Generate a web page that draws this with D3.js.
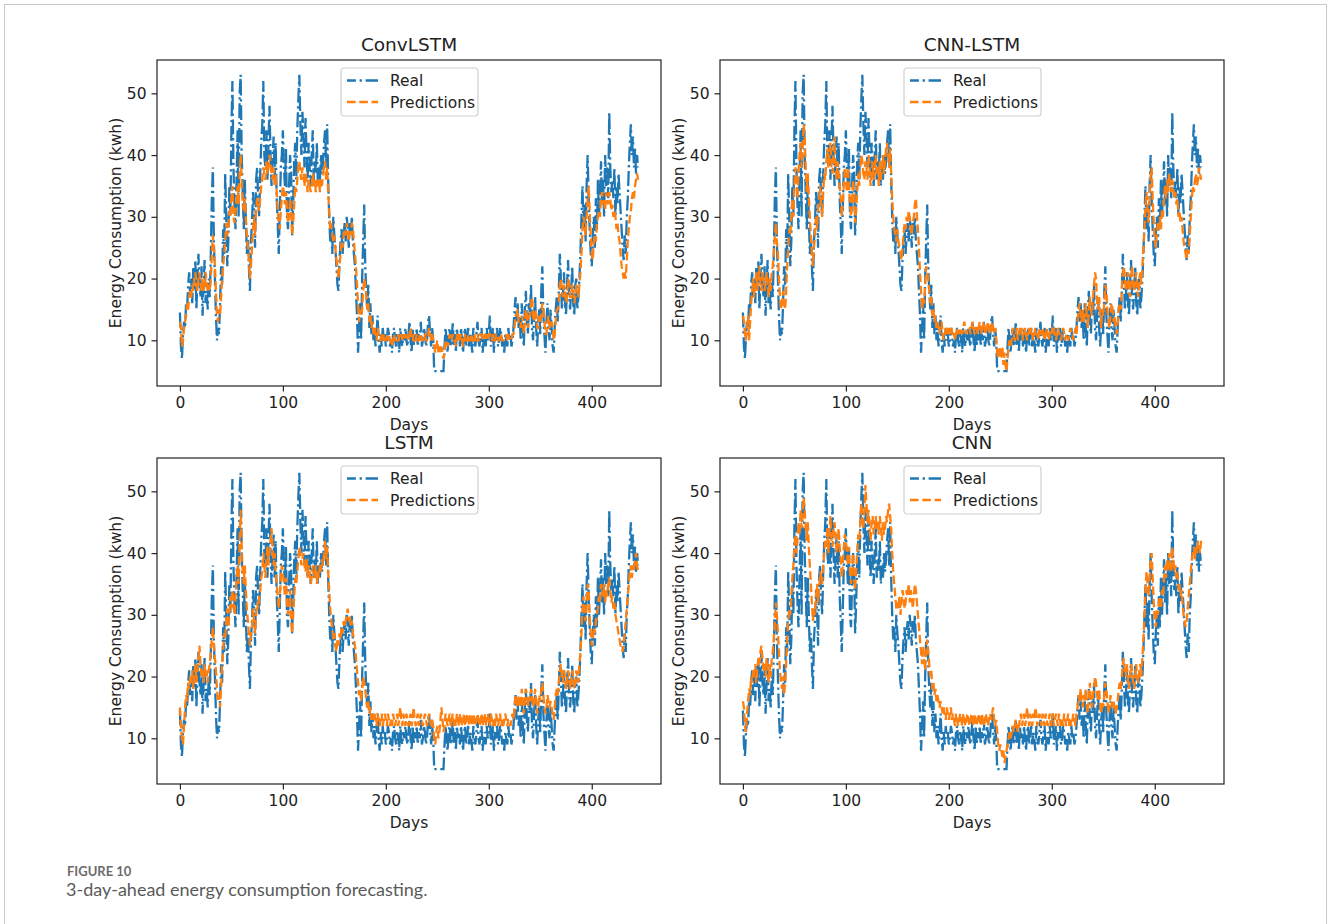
<!DOCTYPE html>
<html lang="en">
<head>
<meta charset="UTF-8">
<title>3-day-ahead forecasting</title>
<style>
  body { margin: 0; background: #fff; }
  svg text { font-family: "DejaVu Sans", sans-serif; fill: #222; }
  .cap text { font-family: Lato, "Open Sans", sans-serif; }
</style>
</head>
<body>
<svg width="1328" height="924"></svg>

<script src="https://cdn.jsdelivr.net/npm/d3@7"></script>
<script>
// panel titles
var models = ["ConvLSTM", "CNN-LSTM", "LSTM", "CNN"];
var xTicks = [0, 100, 200, 300, 400];
var yTicks = [10, 20, 30, 40, 50];

// measured daily consumption (same in every panel)
var real = [
  14.5, 9, 7, 11, 13, 12, 16, 15, 19, 21,
  17, 20, 16, 22, 18, 23, 15, 20, 24, 19,
  17, 22, 14, 19, 23, 16, 18, 15, 20, 17,
  24, 33, 38, 26, 20, 14, 10, 12, 11, 16,
  22, 19, 28, 24, 37, 30, 22, 26, 35, 30,
  44, 52, 38, 32, 28, 36, 44, 30, 50, 53,
  40, 34, 28, 36, 30, 24, 27, 22, 18, 26,
  29, 34, 31, 25, 36, 38, 33, 30, 37, 42,
  45, 52, 40, 38, 44, 36, 42, 48, 40, 35,
  39, 43, 36, 42, 33, 29, 24, 31, 38, 40,
  44, 38, 35, 41, 30, 28, 35, 40, 37, 27,
  32, 39, 42, 36, 44, 49, 53, 45, 40, 47,
  43, 38, 46, 40, 36, 42, 38, 35, 40, 44,
  36, 39, 37, 42, 35, 38, 36, 40, 37, 39,
  42, 44, 38, 45, 36, 30, 26, 28, 24, 30,
  27, 25, 22, 19, 18, 23, 26, 28, 24, 27,
  29, 26, 30, 28, 25, 29, 27, 30, 26, 24,
  22, 18, 14, 8, 12, 16, 10, 20, 26, 32,
  22, 18, 15, 19, 12, 16, 11, 14, 10, 12,
  9, 11, 14, 10, 8, 11, 9, 12, 10, 11,
  9, 10, 12, 11, 9, 10, 8, 11, 12, 10,
  9, 11, 10, 8, 12, 10, 9, 11, 10, 12,
  10, 9, 11, 13, 10, 8, 12, 9, 11, 10,
  12, 9, 11, 10, 13, 9, 10, 12, 11, 9,
  10, 13, 14, 11, 9, 12, 10, 5, 5, 5,
  5, 5, 5, 5, 5, 5, 5, 9, 12, 10,
  8, 11, 12, 9, 10, 13, 9, 11, 8, 12,
  10, 11, 9, 12, 10, 8, 11, 12, 9, 10,
  12, 9, 11, 10, 8, 12, 10, 9, 11, 13,
  10, 9, 11, 12, 8, 10, 11, 9, 12, 10,
  11, 14, 9, 10, 12, 8, 11, 10, 12, 9,
  10, 12, 11, 9, 10, 8, 11, 10, 9, 12,
  10, 11, 9, 10, 12, 15, 17, 13, 16, 12,
  14, 10, 16, 12, 9, 15, 18, 13, 11, 16,
  14, 19, 12, 10, 14, 17, 12, 9, 13, 15,
  11, 18, 22, 14, 11, 8, 13, 16, 12, 10,
  15, 12, 9, 8, 12, 15, 17, 13, 18, 24,
  20, 15, 17, 21, 16, 14, 19, 23, 17, 15,
  18, 22, 16, 14, 19, 20, 15, 17, 20, 24,
  30, 35, 28, 32, 26, 35, 40, 33, 28, 24,
  22, 27, 30, 25, 33, 28, 36, 30, 34, 39,
  32, 36, 30, 40, 35, 38, 33, 47, 38, 34,
  36, 33, 38, 30, 35, 32, 37, 34, 31, 28,
  25, 23, 27, 24, 30, 33, 38, 42, 45, 40,
  43, 38, 41, 37, 40, 38
];

var predConvLSTM = [
  13, 12, 9, 10, 12, 13, 14, 16, 15, 17,
  18, 17, 19, 18, 20, 21, 19, 18, 20, 21,
  19, 18, 20, 18, 19, 21, 19, 18, 19, 18,
  20, 24, 27, 25, 22, 18, 14, 13, 15, 14,
  17, 20, 22, 24, 26, 29, 27, 28, 31, 30,
  33, 35, 30, 29, 31, 33, 35, 32, 37, 40,
  36, 32, 31, 33, 30, 27, 25, 23, 20, 22,
  25, 28, 30, 27, 31, 33, 32, 31, 33, 35,
  36, 38, 37, 36, 39, 37, 38, 40, 39, 37,
  36, 38, 35, 37, 34, 31, 29, 28, 31, 33,
  35, 34, 32, 34, 31, 29, 30, 33, 31, 27,
  29, 32, 35, 34, 36, 38, 39, 37, 36, 38,
  37, 35, 37, 36, 34, 36, 35, 34, 35, 37,
  35, 36, 34, 36, 35, 36, 34, 36, 35, 37,
  38, 39, 36, 38, 34, 31, 28, 29, 27, 26,
  27, 25, 23, 22, 20, 22, 24, 26, 25, 27,
  28, 27, 29, 28, 26, 28, 27, 29, 28, 26,
  24, 22, 19, 16, 13, 15, 14, 15, 18, 20,
  19, 17, 15, 16, 13, 14, 12, 13, 11, 12,
  11, 10, 12, 11, 10, 10, 11, 10, 11, 10,
  10, 11, 10, 11, 10, 10, 9, 10, 11, 10,
  10, 10, 11, 10, 10, 11, 10, 10, 11, 10,
  11, 10, 10, 11, 12, 10, 10, 11, 10, 10,
  11, 10, 10, 11, 11, 10, 10, 11, 11, 10,
  10, 11, 12, 11, 10, 11, 10, 9, 8, 9,
  10, 8, 9, 8, 9, 8, 7, 8, 10, 10,
  9, 10, 11, 10, 10, 11, 10, 10, 9, 11,
  10, 11, 10, 11, 10, 9, 10, 11, 10, 10,
  11, 10, 10, 11, 10, 10, 11, 10, 10, 11,
  10, 10, 11, 11, 10, 10, 11, 10, 11, 10,
  11, 11, 10, 10, 11, 10, 10, 11, 11, 10,
  10, 11, 11, 10, 10, 10, 10, 11, 10, 11,
  10, 10, 10, 11, 11, 12, 14, 14, 15, 13,
  13, 12, 14, 13, 11, 13, 15, 14, 12, 14,
  14, 16, 17, 14, 13, 15, 14, 12, 12, 14,
  13, 14, 16, 15, 13, 11, 11, 13, 14, 12,
  12, 13, 12, 10, 11, 13, 15, 15, 16, 19,
  20, 18, 17, 19, 18, 16, 17, 20, 19, 17,
  17, 19, 18, 16, 17, 19, 18, 17, 19, 21,
  24, 28, 30, 29, 27, 30, 33, 35, 31, 27,
  24, 23, 26, 27, 26, 29, 30, 31, 30, 33,
  34, 32, 33, 31, 34, 33, 32, 34, 33, 31,
  32, 30, 31, 30, 28, 29, 27, 26, 24, 22,
  21, 20, 21, 20, 23, 26, 28, 30, 31, 33,
  34, 33, 35, 36, 37, 36
];

var predCnnLstm = [
  14, 13, 11, 10, 12, 14, 10, 13, 16, 18,
  20, 17, 19, 21, 18, 20, 22, 19, 18, 21,
  20, 18, 19, 21, 19, 17, 20, 18, 21, 22,
  24, 27, 29, 26, 24, 20, 17, 15, 16, 18,
  16, 15, 18, 22, 25, 28, 27, 30, 33, 30,
  35, 38, 36, 33, 37, 40, 42, 38, 41, 45,
  43, 38, 34, 37, 33, 30, 27, 24, 22, 25,
  27, 30, 28, 31, 33, 35, 32, 30, 34, 37,
  36, 39, 41, 38, 40, 42, 38, 37, 40, 43,
  38, 36, 39, 37, 35, 33, 30, 32, 35, 38,
  36, 34, 38, 35, 32, 30, 33, 36, 34, 29,
  31, 34, 37, 35, 38, 40, 39, 37, 36, 39,
  38, 36, 40, 38, 35, 37, 39, 36, 38, 40,
  37, 38, 35, 39, 36, 38, 40, 37, 39, 41,
  42, 40, 38, 41, 37, 33, 30, 28, 27, 26,
  28, 26, 25, 24, 23, 25, 27, 29, 28, 30,
  29, 31, 30, 28, 27, 29, 30, 32, 33, 30,
  28, 25, 21, 18, 15, 17, 16, 19, 22, 21,
  20, 18, 16, 17, 14, 15, 13, 14, 12, 13,
  12, 11, 12, 13, 11, 10, 11, 12, 11, 12,
  11, 12, 11, 12, 11, 11, 10, 11, 12, 11,
  12, 11, 12, 11, 12, 13, 12, 11, 12, 12,
  12, 11, 12, 13, 12, 11, 12, 12, 11, 12,
  13, 12, 11, 12, 13, 12, 11, 12, 13, 12,
  11, 12, 13, 12, 11, 12, 10, 8, 7, 9,
  8, 7, 9, 6, 8, 6, 5, 7, 9, 10,
  9, 10, 12, 11, 10, 11, 12, 10, 11, 12,
  11, 12, 10, 11, 12, 11, 10, 11, 12, 11,
  12, 11, 10, 11, 12, 11, 11, 10, 12, 11,
  11, 12, 11, 10, 11, 12, 11, 10, 11, 12,
  12, 11, 12, 11, 10, 11, 12, 11, 11, 10,
  11, 12, 11, 10, 11, 11, 10, 11, 12, 11,
  11, 10, 11, 12, 11, 13, 15, 16, 14, 13,
  15, 13, 14, 16, 14, 12, 15, 17, 15, 14,
  17, 19, 21, 20, 16, 15, 17, 14, 12, 15,
  14, 16, 19, 18, 15, 13, 12, 14, 16, 15,
  13, 14, 12, 11, 13, 15, 16, 15, 18, 21,
  22, 20, 18, 19, 21, 18, 17, 20, 22, 19,
  18, 20, 21, 18, 17, 20, 21, 19, 22, 25,
  28, 32, 34, 31, 29, 33, 37, 38, 33, 29,
  26, 25, 27, 29, 28, 30, 28, 31, 30, 33,
  35, 33, 36, 34, 37, 35, 34, 36, 35, 33,
  34, 32, 33, 30, 31, 29, 30, 28, 26, 25,
  24, 23, 25, 24, 27, 30, 33, 35, 34, 36,
  37, 35, 36, 38, 37, 36
];

var predLstm = [
  15, 12, 10, 9, 12, 15, 17, 16, 19, 18,
  20, 19, 21, 18, 20, 22, 19, 21, 23, 25,
  22, 20, 21, 19, 22, 20, 21, 19, 21, 22,
  24, 26, 28, 25, 23, 21, 18, 16, 17, 15,
  18, 22, 24, 27, 26, 29, 31, 28, 30, 33,
  31, 34, 32, 30, 33, 36, 38, 35, 42, 47,
  41, 37, 35, 38, 34, 31, 29, 27, 25, 27,
  28, 31, 29, 27, 30, 32, 31, 33, 34, 36,
  37, 40, 38, 36, 39, 41, 38, 40, 42, 44,
  41, 38, 40, 37, 35, 33, 31, 33, 36, 38,
  37, 35, 33, 36, 32, 30, 31, 34, 29, 27,
  30, 33, 36, 35, 37, 39, 41, 40, 38, 39,
  40, 38, 37, 39, 36, 38, 37, 35, 36, 38,
  37, 36, 38, 35, 37, 36, 38, 37, 39, 38,
  40, 42, 39, 41, 37, 34, 31, 29, 28, 26,
  27, 25, 24, 26, 25, 27, 26, 28, 27, 29,
  28, 29, 30, 31, 29, 30, 28, 29, 27, 26,
  25, 23, 21, 19, 17, 18, 16, 18, 20, 19,
  18, 16, 15, 16, 14, 15, 13, 14, 13, 14,
  13, 12, 14, 13, 12, 13, 14, 12, 13, 14,
  13, 12, 14, 13, 12, 13, 12, 14, 13, 12,
  13, 14, 12, 13, 15, 13, 12, 14, 13, 12,
  14, 13, 12, 13, 14, 12, 13, 15, 13, 12,
  13, 14, 12, 13, 14, 13, 12, 13, 14, 13,
  12, 13, 14, 13, 12, 13, 12, 10, 9, 11,
  12, 10, 11, 13, 15, 13, 11, 12, 14, 13,
  12, 13, 14, 12, 13, 14, 12, 13, 12, 14,
  13, 12, 14, 13, 12, 13, 14, 12, 13, 14,
  13, 12, 14, 13, 12, 14, 13, 12, 13, 14,
  13, 12, 13, 14, 12, 13, 14, 12, 13, 14,
  13, 12, 14, 13, 12, 13, 12, 14, 13, 12,
  13, 14, 12, 13, 12, 13, 14, 13, 12, 13,
  13, 12, 13, 14, 13, 15, 17, 16, 15, 17,
  16, 15, 18, 16, 14, 16, 18, 17, 15, 17,
  16, 18, 17, 15, 16, 18, 16, 14, 15, 17,
  16, 18, 19, 17, 15, 14, 15, 17, 16, 15,
  16, 15, 14, 13, 15, 17, 18, 17, 19, 21,
  22, 20, 19, 21, 20, 18, 19, 21, 20, 18,
  19, 21, 20, 18, 19, 21, 20, 19, 22, 24,
  27, 31, 33, 30, 29, 32, 35, 34, 30, 27,
  25, 26, 28, 27, 29, 30, 31, 33, 32, 35,
  34, 33, 35, 32, 34, 33, 35, 36, 34, 32,
  33, 31, 32, 30, 29, 28, 27, 26, 25, 25,
  24, 25, 27, 29, 31, 33, 35, 37, 38, 36,
  38, 37, 39, 40, 38, 37
];

var predCnn = [
  16, 15, 12, 11, 14, 16, 18, 17, 20, 19,
  21, 20, 22, 19, 21, 23, 22, 24, 25, 23,
  21, 22, 20, 23, 21, 19, 22, 20, 23, 24,
  26, 29, 32, 30, 27, 24, 21, 19, 18, 20,
  17, 19, 22, 26, 29, 31, 30, 33, 36, 38,
  41, 43, 40, 42, 45, 43, 47, 44, 46, 49,
  47, 44, 42, 45, 41, 38, 35, 32, 29, 31,
  30, 33, 35, 32, 34, 37, 36, 35, 38, 40,
  42, 41, 44, 40, 43, 46, 42, 41, 44, 45,
  43, 40, 42, 44, 41, 39, 36, 38, 41, 43,
  42, 40, 38, 41, 37, 35, 38, 40, 36, 34,
  37, 40, 43, 42, 45, 48, 46, 44, 47, 51,
  48, 45, 47, 44, 42, 45, 46, 43, 44, 46,
  44, 45, 43, 46, 44, 42, 45, 43, 44, 46,
  45, 47, 48, 46, 44, 40, 37, 35, 33, 31,
  32, 31, 33, 30, 32, 34, 33, 31, 32, 34,
  33, 35, 32, 34, 33, 31, 33, 35, 34, 32,
  30, 28, 26, 24, 22, 25, 23, 21, 24, 26,
  24, 22, 20, 21, 18, 19, 17, 18, 16, 17,
  16, 15, 16, 15, 14, 15, 14, 13, 15, 14,
  13, 14, 15, 13, 14, 13, 12, 14, 13, 12,
  13, 14, 13, 12, 14, 13, 12, 13, 14, 13,
  12, 13, 14, 13, 12, 14, 13, 12, 13, 14,
  13, 12, 14, 13, 12, 13, 14, 13, 12, 13,
  14, 13, 14, 15, 13, 12, 13, 11, 9, 8,
  9, 8, 7, 8, 6, 7, 8, 9, 10, 11,
  10, 11, 12, 11, 12, 13, 12, 11, 12, 13,
  14, 12, 13, 14, 12, 13, 15, 13, 12, 14,
  13, 12, 14, 13, 15, 14, 12, 13, 14, 13,
  12, 14, 13, 12, 14, 13, 12, 13, 14, 12,
  13, 14, 12, 13, 14, 13, 12, 14, 13, 12,
  13, 12, 14, 13, 12, 13, 14, 12, 13, 12,
  13, 14, 13, 12, 14, 15, 17, 16, 18, 16,
  15, 17, 16, 18, 15, 14, 17, 19, 16, 15,
  17, 18, 20, 19, 17, 16, 18, 15, 14, 16,
  15, 17, 19, 18, 16, 14, 15, 17, 16, 15,
  16, 15, 14, 15, 16, 18, 19, 18, 20, 22,
  23, 21, 20, 22, 19, 18, 20, 22, 21, 19,
  18, 20, 22, 20, 19, 21, 22, 20, 23, 26,
  30, 34, 37, 35, 33, 36, 39, 40, 36, 32,
  29, 28, 31, 30, 32, 33, 31, 34, 33, 36,
  38, 36, 39, 37, 40, 38, 37, 41, 39, 37,
  38, 36, 37, 34, 35, 33, 34, 32, 30, 29,
  28, 29, 31, 33, 35, 37, 39, 40, 41, 39,
  41, 40, 42, 41, 40, 42
];

var predictions = [predConvLSTM, predCnnLstm, predLstm, predCnn];

var svg = d3.select("svg");
var blue = "#1f77b4", orange = "#ff7f0e";

// card frame
svg.append("rect").attr("x", 4.5).attr("y", 4.5).attr("width", 1322).attr("height", 940)
  .attr("fill", "none").attr("stroke", "#c8c8c8").attr("stroke-width", 1);

var w = 504, h = 326;
var origins = [[157, 60], [720, 60], [157, 458], [720, 458]];

// same scales for every panel (matplotlib auto margin 5%)
var yMin = 5, yMax = 53;
var x = d3.scaleLinear().domain([0 - 0.05 * 445, 445 * 1.05]).range([0, w]);
var y = d3.scaleLinear().domain([yMin - 0.05 * (yMax - yMin), yMax + 0.05 * (yMax - yMin)]).range([h, 0]);

var line = d3.line().x(function(d, i) { return x(i); }).y(function(d) { return y(d); });

models.forEach(function(name, k) {
  var g = svg.append("g").attr("transform", "translate(" + origins[k][0] + "," + origins[k][1] + ")");

  g.append("path").datum(real).attr("d", line)
    .attr("fill", "none").attr("stroke", blue).attr("stroke-width", 2.3)
    .attr("stroke-dasharray", "14.9,3.7,2.3,3.7");
  g.append("path").datum(predictions[k]).attr("d", line)
    .attr("fill", "none").attr("stroke", orange).attr("stroke-width", 2.3)
    .attr("stroke-dasharray", "8.6,3.7");

  var xa = g.append("g").attr("transform", "translate(0," + h + ")")
    .call(d3.axisBottom(x).tickValues(xTicks).tickSize(5.5).tickPadding(5));
  var ya = g.append("g")
    .call(d3.axisLeft(y).tickValues(yTicks).tickSize(5.5).tickPadding(5));
  [xa, ya].forEach(function(a) {
    a.select(".domain").remove();
    a.selectAll("line").attr("stroke", "#222").attr("stroke-width", 1.2);
    a.selectAll("text").attr("font-size", 15.5).attr("font-family", "DejaVu Sans").attr("fill", "#222");
  });

  g.append("rect").attr("width", w).attr("height", h)
    .attr("fill", "none").attr("stroke", "#222").attr("stroke-width", 1.2);

  g.append("text").attr("x", w / 2).attr("y", -9).attr("text-anchor", "middle")
    .attr("font-size", 18.5).text(name);
  g.append("text").attr("x", w / 2).attr("y", h + 44).attr("text-anchor", "middle")
    .attr("font-size", 15.5).text("Days");
  g.append("text").attr("transform", "translate(-36," + (h / 2) + ") rotate(-90)")
    .attr("text-anchor", "middle").attr("font-size", 15.5).text("Energy Consumption (kwh)");

  // legend
  var lg = g.append("g").attr("transform", "translate(184,8)");
  lg.append("rect").attr("width", 137).attr("height", 48).attr("rx", 3)
    .attr("fill", "#fff").attr("fill-opacity", 0.8).attr("stroke", "#d0d0d0").attr("stroke-width", 1.2);
  lg.append("line").attr("x1", 6).attr("x2", 37).attr("y1", 12.5).attr("y2", 12.5)
    .attr("stroke", blue).attr("stroke-width", 2.3).attr("stroke-dasharray", "14.9,3.7,2.3,3.7")
    .attr("stroke-dashoffset", -18.6);
  lg.append("line").attr("x1", 6).attr("x2", 37).attr("y1", 34).attr("y2", 34)
    .attr("stroke", orange).attr("stroke-width", 2.3).attr("stroke-dasharray", "8.6,3.7");
  lg.append("text").attr("x", 49).attr("y", 18).attr("font-size", 15.5).text("Real");
  lg.append("text").attr("x", 49).attr("y", 40).attr("font-size", 15.5).text("Predictions");
});

// caption
var cap = svg.append("g").attr("class", "cap");
cap.append("text").attr("x", 67).attr("y", 876).attr("font-size", 13).attr("font-weight", "bold")
  .style("fill", "#6b6b6b").text("FIGURE 10");
cap.append("text").attr("x", 66).attr("y", 896).attr("font-size", 18)
  .style("fill", "#5a5a5a").text("3-day-ahead energy consumption forecasting.");
</script>
</body>
</html>
